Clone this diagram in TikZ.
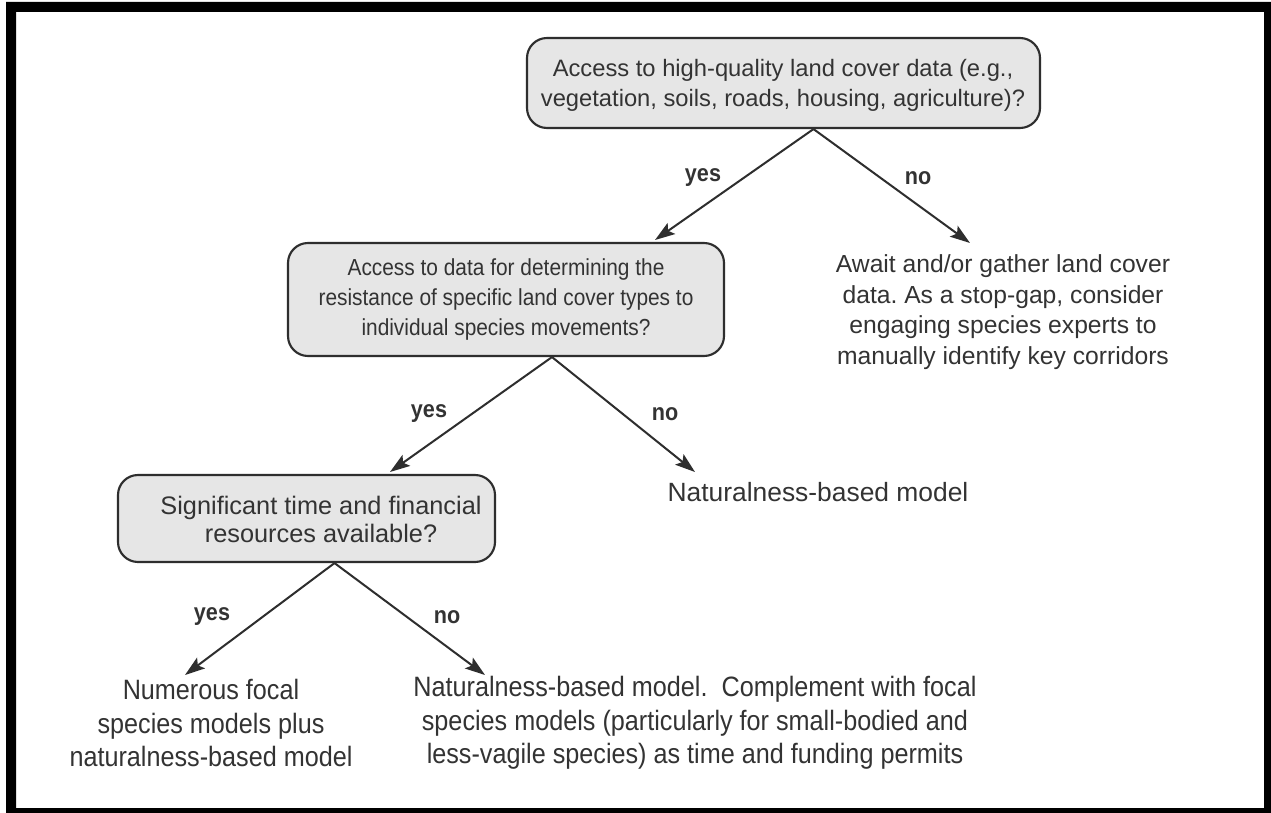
\documentclass[tikz,border=0pt]{standalone}
\usepackage{fontspec}
\setmainfont{Liberation Sans}
\newfontfamily\narrowfont[FakeStretch=0.9]{Liberation Sans}
\usetikzlibrary{arrows.meta,calc}
\frenchspacing
\definecolor{txt}{HTML}{333333}
\definecolor{boxfill}{HTML}{E6E6E6}
\definecolor{ln}{HTML}{2E2E2E}
\tikzset{
  qbox/.style={draw=ln, line width=1.6pt, fill=boxfill, rounded corners=15pt, inner sep=0pt},
  qtext/.style={align=center, text=txt, inner sep=0pt},
  ans/.style={align=center, text=txt, inner sep=0pt},
  lab/.style={text=txt, font=\narrowfont\bfseries\fontsize{18}{20}\selectfont, inner sep=0pt},
  conn/.style={draw=ln, line width=1.5pt, -{Stealth[length=15pt,width=10pt,inset=3pt]}}
}
\begin{document}
\begin{tikzpicture}[x=0.75pt,y=-0.75pt]
\useasboundingbox (0,0) rectangle (1271,813);
\fill[white] (0,0) rectangle (1271,813);
\fill[black,even odd rule] (6,2) rectangle (1271,813) (16,12) rectangle (1264,808);
% boxes
\node[qbox, minimum width=384.75pt, minimum height=67.5pt] (b1) at (783.5,83) {};
\node[qtext, font=\fontsize{17.8}{22.5}\selectfont] (b1t) at (783,85) {Access to high-quality land cover data (e.g.,\\vegetation, soils, roads, housing, agriculture)?};
\node[qbox, minimum width=327pt, minimum height=84.75pt] (b2) at (506,299.5) {};
\node[qtext, font=\narrowfont\fontsize{17.4}{22.5}\selectfont] (b2t) at (506,300) {Access to data for determining the\\resistance of specific land cover types to\\individual species movements?};
\node[qbox, minimum width=282.75pt, minimum height=65.25pt] (b3) at (306.5,518.5) {};
\node[qtext, font=\fontsize{19}{21}\selectfont] (b3t) at (321,519) {Significant time and financial\\resources available?};
% outcomes
\node[ans, font=\fontsize{18.5}{23}\selectfont] (await) at (1003,312) {Await and/or gather land cover\\data. As a stop-gap, consider\\engaging species experts to\\manually identify key corridors};
\node[ans, font=\fontsize{19.8}{23}\selectfont] (nat1) at (818,492) {Naturalness-based model};
\node[ans, font=\narrowfont\fontsize{21}{25}\selectfont] (num) at (211,723) {Numerous focal\\species models plus\\naturalness-based model};
\node[ans, font=\narrowfont\fontsize{21}{25}\selectfont] (nat2) at (695,723) {Naturalness-based model.\ \ Complement with focal\\species models (particularly for small-bodied and\\less-vagile species) as time and funding permits};
% tip coordinates
\coordinate (t1y) at (655,240);
\coordinate (t1n) at (970,243);
\coordinate (t2y) at (390,472);
\coordinate (t2n) at (695,472);
\coordinate (t3y) at (185,675);
\coordinate (t3n) at (485,675);
% connectors
\draw[conn] ([xshift=22.5pt]b1.south) -- (t1y);
\draw[conn] ([xshift=22.5pt]b1.south) -- (t1n);
\draw[conn] ([xshift=34.5pt]b2.south) -- (t2y);
\draw[conn] ([xshift=34.5pt]b2.south) -- (t2n);
\draw[conn] ([xshift=21pt]b3.south) -- (t3y);
\draw[conn] ([xshift=21pt]b3.south) -- (t3n);
% labels
\node[lab] (y1) at (703,178) {yes};
\node[lab] (n1) at (918,178) {no};
\node[lab] (y2) at (429,414) {yes};
\node[lab] (n2) at (665,414) {no};
\node[lab] (y3) at (212,617) {yes};
\node[lab] (n3) at (447,617) {no};
\end{tikzpicture}
\end{document}
